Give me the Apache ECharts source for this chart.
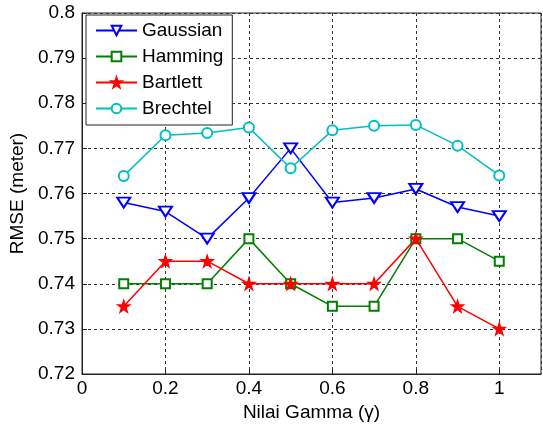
<!DOCTYPE html>
<html>
<head>
<meta charset="utf-8">
<script src="https://cdn.jsdelivr.net/npm/echarts@6/dist/echarts.min.js"></script>
<style>
  html, body { margin: 0; padding: 0; background: #fff; }
  #chart { width: 543px; height: 428px; }
</style>
</head>
<body>
<div id="chart"></div>
<script>
// Window parameter gamma and RMSE for each window function
const gammaValues = [0.1, 0.2, 0.3, 0.4, 0.5, 0.6, 0.7, 0.8, 0.9, 1.0];
const gaussian = [0.758, 0.756, 0.750, 0.759, 0.770, 0.758, 0.759, 0.761, 0.757, 0.755];
const hamming  = [0.740, 0.740, 0.740, 0.750, 0.740, 0.735, 0.735, 0.750, 0.750, 0.745];
const bartlett = [0.735, 0.745, 0.745, 0.740, 0.740, 0.740, 0.740, 0.750, 0.735, 0.730];
const brechtel = [0.7639, 0.7729, 0.7734, 0.7746, 0.7656, 0.7740, 0.7750, 0.7752, 0.7706, 0.7640];

const FONT = 'Liberation Sans, Arial, sans-serif';
const FS = 19;
const STAR = 'path://M50,0 L61.8,36.2 L100,36.2 L69.1,58.6 L80.9,95.1 L50,72.6 L19.1,95.1 L30.9,58.6 L0,36.2 L38.2,36.2 Z';

function pairs(ys) { return gammaValues.map((g, i) => [g, ys[i]]); }

function lineSeries(name, ys, color, symbol, extra) {
  return Object.assign({
    name: name,
    type: 'line',
    data: pairs(ys),
    symbol: symbol,
    symbolSize: 10,
    showAllSymbol: true,
    lineStyle: { color: color, width: 1.5 },
    itemStyle: { color: color, borderColor: color, borderWidth: 1.3 },
    emphasis: { disabled: true },
    animation: false,
    z: 3
  }, extra || {});
}

const chart = echarts.init(document.getElementById('chart'), null, { renderer: 'canvas' });
chart.setOption({
  backgroundColor: '#fff',
  animation: false,
  grid: {
    left: 82, right: 2, top: 13, bottom: 54,
    show: true, borderColor: '#222', borderWidth: 1, backgroundColor: 'transparent'
  },
  legend: {
    orient: 'vertical',
    left: 86, top: 15,
    padding: [6, 9, 7, 9],
    itemWidth: 41, itemHeight: 12, itemGap: 7,
    backgroundColor: '#fff',
    borderColor: '#222', borderWidth: 1, borderRadius: 0,
    textStyle: { fontFamily: FONT, fontSize: FS, color: '#000', lineHeight: 19 },
    data: ['Gaussian', 'Hamming', 'Bartlett', 'Brechtel']
  },
  xAxis: {
    type: 'value', min: 0, max: 1.1, interval: 0.2,
    name: 'Nilai Gamma (\u03b3)', nameLocation: 'middle', nameGap: 27,
    nameTextStyle: { fontFamily: FONT, fontSize: FS, color: '#000' },
    axisLine: { show: true, lineStyle: { color: '#222', width: 1 } },
    axisTick: { show: true, inside: true, length: 5, lineStyle: { color: '#222' } },
    axisLabel: { fontFamily: FONT, fontSize: FS, color: '#000', margin: 5, showMaxLabel: false,
      formatter: v => (Math.abs(v - 1.1) < 1e-9 ? '' : String(+v.toFixed(1))) },
    splitLine: { show: true, lineStyle: { color: '#333', type: [3, 3], width: 1 } }
  },
  yAxis: {
    type: 'value', min: 0.72, max: 0.8, interval: 0.01,
    name: 'RMSE (meter)', nameLocation: 'middle', nameGap: 54,
    nameTextStyle: { fontFamily: FONT, fontSize: FS, color: '#000' },
    axisLine: { show: true, lineStyle: { color: '#222', width: 1 } },
    axisTick: { show: true, inside: true, length: 5, lineStyle: { color: '#222' } },
    axisLabel: { fontFamily: FONT, fontSize: FS, color: '#000', margin: 7,
      formatter: v => String(+v.toFixed(2)) },
    splitLine: { show: true, lineStyle: { color: '#333', type: [3, 3], width: 1 } }
  },
  series: [
    lineSeries('Gaussian', gaussian, '#0000ff', 'emptyTriangle', { symbolSize: [13, 10], symbolRotate: 180 }),
    lineSeries('Hamming', hamming, '#008000', 'emptyRect', { symbolSize: 9 }),
    lineSeries('Bartlett', bartlett, '#ff0000', STAR, { symbolSize: 12 }),
    lineSeries('Brechtel', brechtel, '#00bfbf', 'emptyCircle', { symbolSize: 10 })
  ]
});
</script>
</body>
</html>
